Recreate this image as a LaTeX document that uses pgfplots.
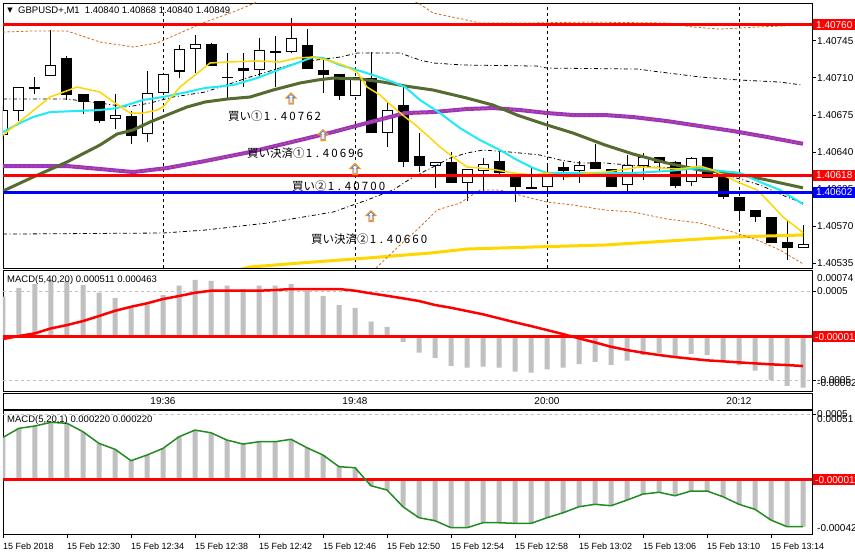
\documentclass[border=0pt]{standalone}
\usepackage{pgfplots}
\pgfplotsset{compat=1.18}
\usepackage{pgfplotstable}
\usepackage{fontspec}
\setmainfont{Liberation Sans}
\newfontfamily\jp{Noto Sans CJK JP}
\newfontfamily\dejavu{DejaVu Sans}
\definecolor{mtgold}{RGB}{255,215,0}
\definecolor{mtcyan}{RGB}{30,235,245}
\definecolor{mtolive}{RGB}{85,107,47}
\definecolor{mtpurple}{RGB}{153,50,204}
\definecolor{mtorange}{RGB}{210,105,30}
\definecolor{mtsilver}{RGB}{192,192,192}
\definecolor{mtgreen}{RGB}{34,139,34}
\definecolor{mtarrow}{RGB}{255,150,20}
\definecolor{mtblue}{RGB}{30,120,255}
\pgfdeclareplotmark{mtup}{%
 \pgfpathmoveto{\pgfqpoint{0pt}{5.5pt}}%
 \pgfpathlineto{\pgfqpoint{5pt}{0.5pt}}%
 \pgfpathlineto{\pgfqpoint{2.2pt}{0.5pt}}%
 \pgfpathlineto{\pgfqpoint{2.2pt}{-5.5pt}}%
 \pgfpathlineto{\pgfqpoint{-2.2pt}{-5.5pt}}%
 \pgfpathlineto{\pgfqpoint{-2.2pt}{0.5pt}}%
 \pgfpathlineto{\pgfqpoint{-5pt}{0.5pt}}%
 \pgfpathclose\pgfusepathqfillstroke}
\pgfdeclareplotmark{mtupin}{%
 \pgfpathmoveto{\pgfqpoint{0pt}{4pt}}%
 \pgfpathlineto{\pgfqpoint{3.4pt}{0.9pt}}%
 \pgfpathlineto{\pgfqpoint{1.2pt}{0.9pt}}%
 \pgfpathlineto{\pgfqpoint{1.2pt}{-4.5pt}}%
 \pgfpathlineto{\pgfqpoint{-1.2pt}{-4.5pt}}%
 \pgfpathlineto{\pgfqpoint{-1.2pt}{0.9pt}}%
 \pgfpathlineto{\pgfqpoint{-3.4pt}{0.9pt}}%
 \pgfpathclose\pgfusepathqstroke}
\newcommand\dg[1]{\makebox[8.5pt]{#1}}
\newcommand\jpl[1]{{\jp\fontsize{11.5}{12}\selectfont #1}}

\pgfplotstableread{
i O H L C
0 1.40656 1.40683 1.40651 1.40680
1 1.40679 1.40701 1.40669 1.40701
2 1.40701 1.40711 1.40695 1.40699
3 1.40712 1.40755 1.40712 1.40722
4 1.40729 1.40731 1.40689 1.40694
5 1.40695 1.40695 1.40676 1.40687
6 1.40688 1.40688 1.40667 1.40669
7 1.40671 1.40695 1.40662 1.40675
8 1.40674 1.40679 1.40648 1.40655
9 1.40657 1.40716 1.40649 1.40696
10 1.40696 1.40715 1.40694 1.40714
11 1.40716 1.40741 1.40710 1.40737
12 1.40737 1.40750 1.40715 1.40742
13 1.40742 1.40743 1.40721 1.40721
14 1.40711 1.40733 1.40689 1.40710
15 1.40719 1.40733 1.40701 1.40716
16 1.40717 1.40748 1.40712 1.40736
17 1.40735 1.40749 1.40701 1.40734
18 1.40734 1.40766 1.40733 1.40748
19 1.40741 1.40756 1.40718 1.40718
20 1.40717 1.40729 1.40696 1.40713
21 1.40714 1.40714 1.40689 1.40693
22 1.40693 1.40711 1.40693 1.40711
23 1.40710 1.40734 1.40658 1.40658
24 1.40658 1.40686 1.40645 1.40680
25 1.40684 1.40703 1.40626 1.40631
26 1.40636 1.40658 1.40621 1.40627
27 1.40627 1.40631 1.40606 1.40631
28 1.40631 1.40640 1.40611 1.40611
29 1.40611 1.40624 1.40594 1.40624
30 1.40622 1.40634 1.40603 1.40629
31 1.40632 1.40640 1.40616 1.40620
32 1.40617 1.40618 1.40593 1.40607
33 1.40607 1.40625 1.40605 1.40606
34 1.40607 1.40630 1.40598 1.40620
35 1.40626 1.40631 1.40614 1.40622
36 1.40622 1.40632 1.40611 1.40628
37 1.40631 1.40648 1.40624 1.40624
38 1.40624 1.40624 1.40607 1.40607
39 1.40609 1.40637 1.40601 1.40628
40 1.40627 1.40639 1.40614 1.40635
41 1.40635 1.40635 1.40621 1.40630
42 1.40631 1.40632 1.40606 1.40608
43 1.40612 1.40635 1.40608 1.40634
44 1.40635 1.40635 1.40616 1.40616
45 1.40617 1.40617 1.40596 1.40598
46 1.40598 1.40598 1.40575 1.40584
47 1.40585 1.40585 1.40574 1.40579
48 1.40579 1.40579 1.40554 1.40554
49 1.40555 1.40576 1.40538 1.40549
50 1.40549 1.40571 1.40549 1.40553
}\candles

\pgfplotstableread{
i h s
0 0.000439 -0.000037
1 0.000540 -0.000003
2 0.000582 0.000027
3 0.000627 0.000083
4 0.000619 0.000120
5 0.000571 0.000165
6 0.000484 0.000222
7 0.000424 0.000281
8 0.000315 0.000326
9 0.000353 0.000365
10 0.000458 0.000413
11 0.000563 0.000447
12 0.000630 0.000484
13 0.000619 0.000507
14 0.000563 0.000507
15 0.000526 0.000507
16 0.000563 0.000507
17 0.000563 0.000514
18 0.000582 0.000526
19 0.000507 0.000526
20 0.000450 0.000526
21 0.000346 0.000526
22 0.000315 0.000507
23 0.000158 0.000477
24 0.000101 0.000450
25 -0.000068 0.000421
26 -0.000191 0.000391
27 -0.000248 0.000346
28 -0.000338 0.000315
29 -0.000360 0.000278
30 -0.000349 0.000241
31 -0.000360 0.000196
32 -0.000405 0.000151
33 -0.000416 0.000109
34 -0.000378 0.000064
35 -0.000360 0.000019
36 -0.000319 -0.000030
37 -0.000293 -0.000075
38 -0.000330 -0.000124
39 -0.000281 -0.000161
40 -0.000217 -0.000191
41 -0.000198 -0.000217
42 -0.000236 -0.000240
43 -0.000203 -0.000259
44 -0.000217 -0.000277
45 -0.000274 -0.000288
46 -0.000330 -0.000300
47 -0.000394 -0.000311
48 -0.000499 -0.000322
49 -0.000563 -0.000330
50 -0.000585 -0.000341
}\macdA

\pgfplotstableread{
i v
0 0.000320
1 0.000391
2 0.000409
3 0.000438
4 0.000430
5 0.000364
6 0.000273
7 0.000227
8 0.000138
9 0.000182
10 0.000234
11 0.000325
12 0.000377
13 0.000356
14 0.000299
15 0.000268
16 0.000286
17 0.000286
18 0.000305
19 0.000239
20 0.000182
21 0.000091
22 0.000083
23 -0.000058
24 -0.000091
25 -0.000222
26 -0.000308
27 -0.000331
28 -0.000386
29 -0.000386
30 -0.000347
31 -0.000347
32 -0.000352
33 -0.000352
34 -0.000308
35 -0.000269
36 -0.000222
37 -0.000203
38 -0.000214
39 -0.000170
40 -0.000123
41 -0.000109
42 -0.000136
43 -0.000099
44 -0.000099
45 -0.000144
46 -0.000203
47 -0.000242
48 -0.000326
49 -0.000378
50 -0.000378
}\macdB

\pgfplotsset{
  mtaxis/.style={anchor=south west, scale only axis, width=809pt,
    xmin=0, xmax=50.5625, axis line style={black, line width=0.8pt},
    scaled y ticks=false, scaled x ticks=false,
    tick align=outside, major tick length=4pt,
    ytick pos=right, yticklabel pos=right,
    major tick style={black, line width=0.7pt},
    yticklabel style={font=\fontsize{10}{12}\selectfont, anchor=west, inner sep=0pt, xshift=1pt},
  },
}

\begin{document}
\begin{tikzpicture}[x=1pt,y=1pt]
\path[use as bounding box, fill=white] (0,0) rectangle (855,555);

% ---------------- main price panel
\begin{axis}[mtaxis, at={(3pt,287pt)}, height=265pt,
  ymin=1.405306, ymax=1.407806,
  xtick={10,22,34,46}, xticklabels={}, major x tick style={draw=none},
  xmajorgrids, major grid style={black, line width=0.7pt, dash pattern=on 3pt off 3pt},
  ytick={1.40535,1.40570,1.40605,1.40640,1.40675,1.40710,1.40745},
  yticklabels={1.40535,1.40570,1.40605,1.40640,1.40675,1.40710,1.40745},
]
% wicks
\addplot[forget plot, draw=none, mark=none, error bars/.cd, y dir=both, y explicit, error mark=none,
  error bar style={draw=black, line width=1pt, solid}]
  table[x=i, y expr={0.5*(\thisrow{H}+\thisrow{L})}, y error expr={0.5*(\thisrow{H}-\thisrow{L})}] {\candles};
% bodies
\addplot[forget plot, draw=none, mark=none, error bars/.cd, y dir=both, y explicit, error mark=none,
  error bar style={draw=black, line width=11pt, solid}]
  table[x=i, y expr={0.5*(\thisrow{O}+\thisrow{C})}, y error expr={max(0.5*abs(\thisrow{O}-\thisrow{C}),0.000005)}] {\candles};
% white fill of rising candles
\addplot[forget plot, draw=none, mark=none, error bars/.cd, y dir=both, y explicit, error mark=none,
  error bar style={draw=white, line width=9pt, solid}]
  table[x=i, y expr={0.5*(\thisrow{O}+\thisrow{C})}, y error expr={(\thisrow{C}>\thisrow{O})*max(0.5*abs(\thisrow{O}-\thisrow{C})-0.0000095,0)}] {\candles};

% long MA (thick gold)
\addplot[mtgold, line width=3pt] coordinates {(14.19,1.405268) (15.44,1.405315) (18.56,1.405353) (22.75,1.405400) (26.69,1.405447) (29.0,1.405485) (33.13,1.405504) (37.63,1.405523) (41.5,1.405560) (45.63,1.405598) (47.75,1.405608) (50.0,1.405617)};
% Bollinger bands (orange dashed)
\addplot[mtorange, line width=0.8pt, dash pattern=on 2.5pt off 2pt] coordinates {(0,1.407532) (1.88,1.407542) (4.0,1.407542) (6.06,1.407438) (8.13,1.407391) (9.63,1.407428) (11.06,1.407523) (12.63,1.407626) (14.38,1.407721) (15.88,1.407815) (18.56,1.407928) (22.31,1.407975) (24.81,1.407881) (26.06,1.407796) (26.88,1.407711) (29.0,1.407645) (29.81,1.407617) (32.75,1.407617) (36.5,1.407626) (41.5,1.407617) (43.13,1.407579) (44.81,1.407560) (47.13,1.407579) (50.0,1.407598)};
\addplot[mtorange, line width=0.8pt, dash pattern=on 2.5pt off 2pt] coordinates {(22.31,1.405098) (23.38,1.405315) (24.81,1.405523) (26.06,1.405692) (27.13,1.405853) (28.56,1.405919) (29.81,1.406042) (31.06,1.406042) (32.75,1.405975) (34.0,1.405928) (35.63,1.405900) (37.63,1.405853) (39.38,1.405834) (41.5,1.405768) (43.56,1.405730) (45.63,1.405645) (47.13,1.405570) (48.56,1.405476) (49.81,1.405362) (50.0,1.405345)};
% black envelope lines
\addplot[black, line width=0.8pt, dash pattern=on 4pt off 2.5pt on 1pt off 2.5pt] coordinates {(0,1.406900) (1.88,1.406900) (4.0,1.406900) (6.06,1.406862) (7.75,1.406825) (9.19,1.406862) (10.63,1.406919) (12.63,1.406966) (13.56,1.407013) (15.44,1.407108) (17.5,1.407202) (18.56,1.407249) (21.06,1.407296) (22.13,1.407334) (24.81,1.407334) (26.06,1.407268) (26.88,1.407240) (28.75,1.407221) (33.38,1.407211) (34.0,1.407192) (39.63,1.407183) (41.06,1.407155) (43.56,1.407108) (46.06,1.407079) (48.56,1.407060) (49.94,1.407032)};
\addplot[black, line width=0.8pt, dash pattern=on 4pt off 2.5pt on 1pt off 2.5pt] coordinates {(0,1.405626) (10.0,1.405636) (12.63,1.405664) (16.5,1.405730) (20.63,1.405834) (22.75,1.405947) (24.38,1.406042) (25.63,1.406164) (26.88,1.406259) (27.94,1.406343) (29.0,1.406391) (30.0,1.406419) (31.69,1.406400) (33.56,1.406372) (34.81,1.406325) (36.06,1.406296) (37.63,1.406296) (40.63,1.406259) (42.5,1.406249) (44.19,1.406211) (45.63,1.406164) (47.31,1.406089) (49.0,1.405975) (50.0,1.405919)};
% purple MA with orange dashed middle band
\addplot[mtpurple, line width=4pt] coordinates {(0,1.406268) (1.88,1.406268) (4.0,1.406268) (6.06,1.406240) (8.13,1.406211) (10.25,1.406249) (12.63,1.406315) (15.44,1.406400) (18.56,1.406513) (20.63,1.406589) (22.75,1.406674) (25.13,1.406768) (26.88,1.406777) (29.0,1.406806) (30.63,1.406815) (32.31,1.406796) (34.0,1.406768) (35.63,1.406749) (37.63,1.406749) (39.38,1.406730) (41.5,1.406692) (43.56,1.406645) (45.63,1.406598) (47.75,1.406542) (50.0,1.406478)};
\addplot[mtorange, line width=0.8pt, dash pattern=on 2.5pt off 2pt] coordinates {(0,1.406268) (1.88,1.406268) (4.0,1.406268) (6.06,1.406240) (8.13,1.406211) (10.25,1.406249) (12.63,1.406315) (15.44,1.406400) (18.56,1.406513) (20.63,1.406589) (22.75,1.406674) (25.13,1.406768) (26.88,1.406777) (29.0,1.406806) (30.63,1.406815) (32.31,1.406796) (34.0,1.406768) (35.63,1.406749) (37.63,1.406749) (39.38,1.406730) (41.5,1.406692) (43.56,1.406645) (45.63,1.406598) (47.75,1.406542) (50.0,1.406478)};
% olive MA
\addplot[mtolive, line width=3pt] coordinates {(0,1.406032) (1.88,1.406164) (4.0,1.406306) (6.06,1.406466) (7.13,1.406570) (8.13,1.406608) (9.19,1.406683) (10.25,1.406749) (11.5,1.406825) (12.63,1.406872) (14.0,1.406900) (15.44,1.406919) (16.88,1.406985) (18.56,1.407051) (19.63,1.407079) (20.63,1.407098) (22.31,1.407089) (23.75,1.407060) (25.13,1.407023) (26.88,1.406985) (29.0,1.406909) (30.63,1.406843) (32.13,1.406749) (34.0,1.406655) (35.63,1.406579) (37.63,1.406466) (39.38,1.406381) (41.5,1.406296) (43.56,1.406230) (45.63,1.406202) (47.75,1.406136) (50.0,1.406062)};
% cyan MA
\addplot[mtcyan, line width=2pt] coordinates {(0,1.406589) (1.06,1.406674) (1.88,1.406730) (2.94,1.406777) (6.06,1.406796) (7.13,1.406815) (8.75,1.406891) (10.0,1.406919) (11.5,1.406966) (12.63,1.407004) (14.38,1.407032) (15.88,1.407098) (17.5,1.407192) (18.56,1.407249) (19.38,1.407296) (20.0,1.407287) (21.06,1.407221) (22.13,1.407174) (23.13,1.407126) (24.38,1.407060) (25.13,1.407013) (26.06,1.406891) (27.31,1.406768) (28.56,1.406626) (29.81,1.406513) (31.06,1.406419) (32.13,1.406325) (33.13,1.406249) (34.0,1.406202) (37.63,1.406202) (39.38,1.406202) (41.5,1.406221) (43.56,1.406249) (44.81,1.406221) (46.06,1.406202) (47.31,1.406117) (48.56,1.406042) (49.38,1.405966) (50.0,1.405909)};
% fast MA (gold thin)
\addplot[mtgold, line width=1.5pt] coordinates {(0,1.406560) (2.94,1.406919) (4.63,1.407013) (6.06,1.406966) (7.0,1.406862) (7.94,1.406768) (8.75,1.406768) (9.63,1.406796) (10.0,1.406825) (11.06,1.407013) (12.0,1.407126) (12.63,1.407202) (12.94,1.407240) (14.0,1.407249) (15.88,1.407259) (17.31,1.407249) (18.38,1.407287) (19.38,1.407296) (20.25,1.407268) (21.25,1.407221) (22.13,1.407155) (22.75,1.407013) (23.56,1.406938) (24.38,1.406825) (25.13,1.406730) (25.63,1.406674) (26.5,1.406560) (27.31,1.406447) (28.13,1.406353) (29.0,1.406259) (29.81,1.406249) (30.88,1.406230) (31.88,1.406202) (33.13,1.406183) (34.0,1.406202) (35.25,1.406164) (36.5,1.406202) (37.63,1.406211) (38.56,1.406230) (39.81,1.406259) (41.06,1.406249) (42.31,1.406240) (43.56,1.406268) (44.38,1.406230) (45.25,1.406164) (46.06,1.406108) (47.13,1.406042) (47.94,1.405919) (48.75,1.405787) (49.81,1.405664) (50.0,1.405636)};
% horizontal levels
\addplot[red, line width=3pt] coordinates {(0,1.40760) (50.5625,1.40760)};
\addplot[red, line width=3pt] coordinates {(0,1.40618) (50.5625,1.40618)};
\addplot[blue, line width=3pt] coordinates {(0,1.40602) (50.5625,1.40602)};
% trade arrows
\addplot[only marks, mark=mtup, mark options={draw=mtarrow, fill=white, line width=1.1pt, solid}] coordinates {(18,1.406905) (20,1.406560) (22,1.406240) (23,1.405796)};
\addplot[only marks, mark=mtupin, mark options={draw=mtblue, line width=0.5pt, solid}] coordinates {(18,1.406905) (20,1.406560) (22,1.406240) (23,1.405796)};
\coordinate (r760) at (axis cs:50.5625,1.40760);
\coordinate (r618) at (axis cs:50.5625,1.40618);
\coordinate (r602) at (axis cs:50.5625,1.40602);
\end{axis}

% ---------------- MACD(5,40,20)
\begin{axis}[mtaxis, at={(3pt,164pt)}, height=121pt,
  ymin=-0.000622, ymax=0.00074, xtick=\empty,
  ytick={0.0005,-0.0005}, yticklabels={0.0005,-0.0005}]
\addplot[ybar, bar width=5pt, fill=mtsilver, draw=none] table[x=i, y=h] {\macdA};
\addplot[mtsilver, line width=0.8pt, dash pattern=on 3pt off 3pt] coordinates {(0,0.0005) (50.5625,0.0005)};
\addplot[mtsilver, line width=0.8pt, dash pattern=on 3pt off 3pt] coordinates {(0,-0.0005) (50.5625,-0.0005)};
\addplot[red, line width=3pt] coordinates {(0,-0.00001) (50.5625,-0.00001)};
\addplot[red, line width=2.5pt] table[x=i, y=s] {\macdA};
\coordinate (ma) at (axis cs:50.5625,-0.00001);
\end{axis}

% ---------------- time strip
\begin{axis}[anchor=south west, at={(3pt,146pt)}, scale only axis, width=809pt, height=16pt,
  xmin=0, xmax=50.5625, ymin=0, ymax=1, xtick=\empty, ytick=\empty,
  axis line style={black, line width=0.8pt}]
\node[font=\fontsize{10}{12}\selectfont] at (axis cs:10,0.5) {19:36};
\node[font=\fontsize{10}{12}\selectfont] at (axis cs:22,0.5) {19:48};
\node[font=\fontsize{10}{12}\selectfont] at (axis cs:34,0.5) {20:00};
\node[font=\fontsize{10}{12}\selectfont] at (axis cs:46,0.5) {20:12};
\end{axis}

% ---------------- MACD(5,20,1)
\begin{axis}[mtaxis, at={(3pt,21pt)}, height=124pt,
  ymin=-0.000435, ymax=0.000534,
  xtick={0,4,8,12,16,20,24,28,32,36,40,44,48},
  xticklabels={15 Feb 2018,15 Feb 12:30,15 Feb 12:34,15 Feb 12:38,15 Feb 12:42,15 Feb 12:46,15 Feb 12:50,15 Feb 12:54,15 Feb 12:58,15 Feb 13:02,15 Feb 13:06,15 Feb 13:10,15 Feb 13:14},
  xtick pos=bottom,
  xticklabel style={font=\fontsize{9}{11}\selectfont, anchor=north west, inner sep=0pt, yshift=-5pt},
  ytick={0.0005}, yticklabels={0.0005}]
\addplot[ybar, bar width=5pt, fill=mtsilver, draw=none] table[x=i, y=v] {\macdB};
\addplot[mtsilver, line width=0.8pt, dash pattern=on 3pt off 3pt] coordinates {(0,0.0005) (50.5625,0.0005)};
\addplot[mtsilver, line width=0.8pt, dash pattern=on 3pt off 3pt] coordinates {(0,0) (50.5625,0)};
\addplot[red, line width=3pt] coordinates {(0,-0.00001) (50.5625,-0.00001)};
\addplot[mtgreen, line width=1.5pt] table[x=i, y=v] {\macdB};
\coordinate (mb) at (axis cs:50.5625,-0.00001);
\end{axis}

% ---------------- texts
\node[font=\dejavu\fontsize{7}{8}\selectfont, inner sep=0pt] at (10,544.5) {▼};
\node[font=\fontsize{9.5}{11}\selectfont, anchor=west, inner sep=0pt] at (18,544.5) {GBPUSD+,M1\ \ 1.40840 1.40868 1.40840 1.40849};
\node[font=\fontsize{9.5}{11}\selectfont, anchor=west, inner sep=0pt] at (7,275.3) {MACD(5,40,20) 0.000511 0.000463};
\node[font=\fontsize{9.5}{11}\selectfont, anchor=west, inner sep=0pt] at (7,134.7) {MACD(5,20,1) 0.000220 0.000220};

\node[anchor=west, inner sep=0pt] at (228,439) {\jpl{買い①\dg{1}\dg{.}\dg{4}\dg{0}\dg{7}\dg{6}\dg{2}}};
\node[anchor=west, inner sep=0pt] at (247,402) {\jpl{買い決済①\dg{1}\dg{.}\dg{4}\dg{0}\dg{6}\dg{9}\dg{6}}};
\node[anchor=west, inner sep=0pt] at (292,369) {\jpl{買い②\dg{1}\dg{.}\dg{4}\dg{0}\dg{7}\dg{0}\dg{0}}};
\node[anchor=west, inner sep=0pt] at (311,316) {\jpl{買い決済②\dg{1}\dg{.}\dg{4}\dg{0}\dg{6}\dg{6}\dg{0}}};

% right-hand price boxes
\node[fill=red, text=white, anchor=west, inner xsep=3pt, inner ysep=0pt, minimum height=11pt, font=\fontsize{10}{12}\selectfont] at ([xshift=1pt]r760) {1.40760};
\node[fill=red, text=white, anchor=west, inner xsep=3pt, inner ysep=0pt, minimum height=11pt, font=\fontsize{10}{12}\selectfont] at ([xshift=1pt]r618) {1.40618};
\node[fill=blue, text=white, anchor=west, inner xsep=3pt, inner ysep=0pt, minimum height=11pt, font=\fontsize{10}{12}\selectfont] at ([xshift=1pt]r602) {1.40602};
\node[fill=red, text=white, anchor=west, inner xsep=2pt, inner ysep=0pt, minimum height=11pt, font=\fontsize{10}{12}\selectfont] at ([xshift=1pt]ma) {-0.000010};
\node[fill=red, text=white, anchor=west, inner xsep=2pt, inner ysep=0pt, minimum height=11pt, font=\fontsize{10}{12}\selectfont] at ([xshift=1pt]mb) {-0.000011};
\node[font=\fontsize{10}{12}\selectfont, anchor=west, inner sep=0pt] at (817,277.3) {0.00074};
\node[font=\fontsize{10}{12}\selectfont, anchor=west, inner sep=0pt] at (817,171.7) {-0.000622};
\node[font=\fontsize{10}{12}\selectfont, anchor=west, inner sep=0pt] at (817,136) {0.00051};
\node[font=\fontsize{10}{12}\selectfont, anchor=west, inner sep=0pt] at (817,27) {-0.000426};
\end{tikzpicture}
\end{document}
